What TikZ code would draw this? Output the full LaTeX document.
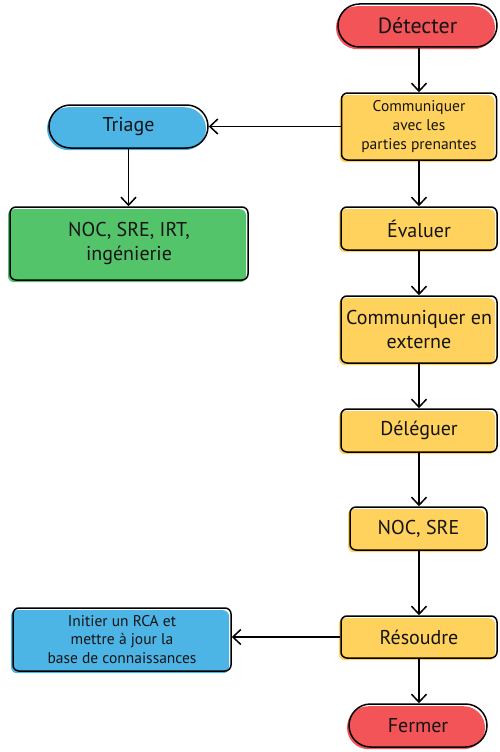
\documentclass[tikz,border=0pt]{standalone}
\usepackage{fontspec}
\setmainfont{PT Sans}
\usetikzlibrary{shapes.misc,shadows,arrows.meta}
\definecolor{cred}{HTML}{F25458}
\definecolor{cyel}{HTML}{FFD25E}
\definecolor{cblue}{HTML}{4DB4E6}
\definecolor{cgreen}{HTML}{54C46B}
\definecolor{ctext}{HTML}{141414}
\tikzset{
  x=1pt,y=-1pt,
  base/.style={draw=black, line width=1.5pt, text=ctext, inner sep=0pt, align=center,
    general shadow={fill=#1, shadow xshift=-2pt, shadow yshift=-2.2pt}},
  boxs/.style={base=#1, rectangle, rounded corners=6pt},
  pill/.style={base=#1, rounded rectangle, rounded rectangle arc length=180},
  fbig/.style={font=\fontsize{22}{26}\selectfont},
  fmid/.style={font=\fontsize{20}{24.5}\selectfont},
  fsml/.style={font=\fontsize{15.5}{18.7}\selectfont},
  conn/.style={line width=1.5pt, -{Straight Barb[length=8pt,width=15pt,line width=1.5pt]}},
}
\begin{document}
\begin{tikzpicture}
\useasboundingbox (0,0) rectangle (500,752);
\node[pill=cred, minimum width=159pt, minimum height=43pt, fbig] (det) at (417.5,25.5) {Détecter};
\node[boxs=cyel, minimum width=155pt, minimum height=67pt, fsml] (com1) at (419,126.5) {Communiquer\\avec les\\parties prenantes};
\node[boxs=cyel, minimum width=156pt, minimum height=43pt, fmid] (eval) at (419,228.5) {Évaluer};
\node[boxs=cyel, minimum width=156pt, minimum height=67pt, fmid] (comext) at (419,329.5) {Communiquer en\\externe};
\node[boxs=cyel, minimum width=156pt, minimum height=43pt, fmid] (deleg) at (419,430.5) {Déléguer};
\node[boxs=cyel, minimum width=137pt, minimum height=43pt, fmid] (nocsre) at (418.5,528.5) {NOC, SRE};
\node[boxs=cyel, minimum width=156pt, minimum height=42pt, fmid] (res) at (419,637) {Résoudre};
\node[pill=cred, minimum width=138pt, minimum height=43pt, fmid] (fermer) at (418,725.5) {Fermer};
\node[boxs=cblue, minimum width=218pt, minimum height=63pt, fsml] (init) at (122,639.5) {Initier un RCA et\\mettre à jour la\\base de connaissances};
\node[pill=cblue, minimum width=159pt, minimum height=43pt, fmid] (triage) at (128.5,126.5) {Triage};
\node[boxs=cgreen, minimum width=238pt, minimum height=73pt, fmid] (noc4) at (129,243.5) {NOC, SRE, IRT,\\ingénierie};
\draw[conn] (com1.north |- det.south) -- (com1.north);
\draw[conn] (com1.south) -- (eval.north);
\draw[conn] (eval.south) -- (comext.north);
\draw[conn] (comext.south) -- (deleg.north);
\draw[conn] (deleg.south) -- (deleg.south |- nocsre.north);
\draw[conn] (res.north |- nocsre.south) -- (res.north);
\draw[conn] (res.south) -- (res.south |- fermer.north);
\draw[conn] (com1.west) -- (triage.east);
\draw[conn] (triage.south) -- (triage.south |- noc4.north);
\draw[conn] (res.west) -- (res.west -| init.east);
\end{tikzpicture}
\end{document}
